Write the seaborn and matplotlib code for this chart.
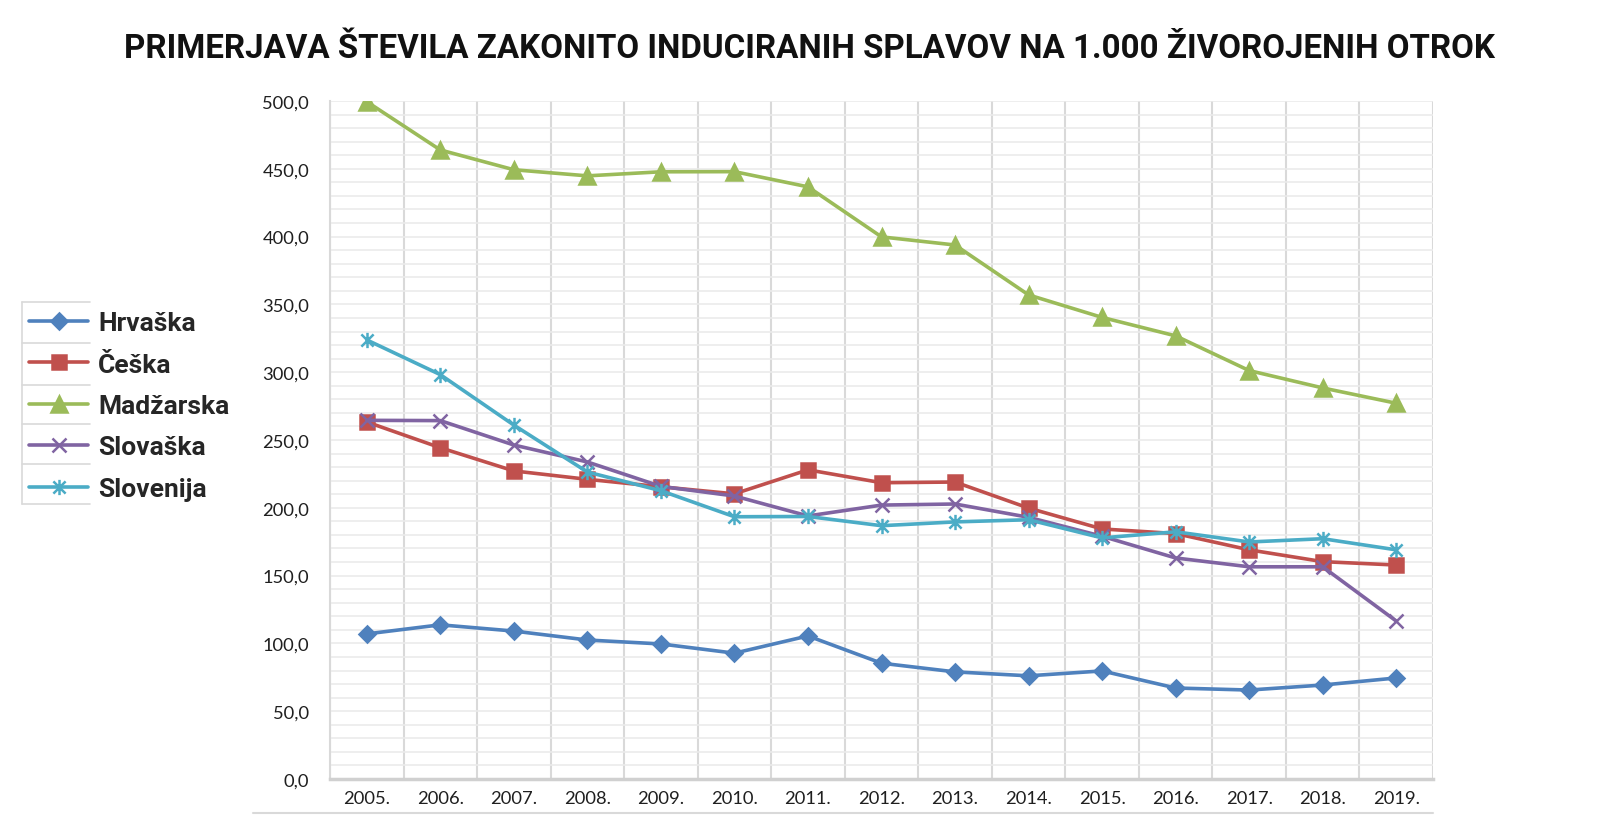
import numpy as np
import pandas as pd
import seaborn as sns
import matplotlib.pyplot as plt
from matplotlib.path import Path
from matplotlib.lines import Line2D
from matplotlib.ticker import MultipleLocator, FixedLocator, FuncFormatter

years = [2005, 2006, 2007, 2008, 2009, 2010, 2011, 2012, 2013, 2014, 2015, 2016, 2017, 2018, 2019]
year_labels = [f"{y}." for y in years]

hrvaska = [107.0, 113.7, 109.1, 102.5, 99.6, 92.8, 105.5, 85.4, 79.0, 76.1, 79.7, 67.1, 65.6, 69.3, 74.5]
ceska = [263.3, 244.3, 227.2, 221.0, 215.5, 210.3, 228.0, 218.5, 219.0, 199.8, 184.4, 181.0, 169.0, 160.3, 157.8]
madzarska = [499.5, 463.9, 449.3, 444.8, 447.8, 447.9, 436.7, 399.8, 393.8, 357.0, 340.4, 326.8, 301.2, 288.4, 277.1]
slovaska = [264.5, 264.3, 246.3, 233.8, 215.8, 208.7, 194.0, 202.0, 202.8, 193.0, 179.0, 163.0, 156.5, 156.5, 116.5]
slovenija = [323.8, 298.2, 261.0, 226.4, 212.6, 193.4, 193.6, 186.8, 189.6, 191.2, 177.8, 182.3, 174.8, 177.2, 169.0]

names = ["Hrvaška", "Češka", "Madžarska", "Slovaška", "Slovenija"]
series = [hrvaska, ceska, madzarska, slovaska, slovenija]
colors = ["#4F81BD", "#C0504D", "#9BBB59", "#8064A2", "#4BACC6"]

star = Path([(0, -1), (0, 1), (-0.8, -0.8), (0.8, 0.8), (-0.8, 0.8), (0.8, -0.8)],
            [Path.MOVETO, Path.LINETO, Path.MOVETO, Path.LINETO, Path.MOVETO, Path.LINETO])
markers = ["D", "s", "^", "x", star]
msizes = [8, 10.5, 11, 10, 11]

sns.set_theme(style="white")
plt.rcParams['font.family'] = ['Lato', 'DejaVu Sans']

fig = plt.figure(figsize=(16, 8.37), dpi=100)
ax = fig.add_axes([330 / 1600, 1 - 780 / 837, 1103 / 1600, 678 / 837])

for name, vals, col, mk, ms in zip(names, series, colors, markers, msizes):
    df = pd.DataFrame({"year": years, "value": vals})
    sns.lineplot(data=df, x="year", y="value", ax=ax, color=col, linewidth=2.6,
                 marker=mk, markersize=ms, markeredgecolor=col, markerfacecolor=col,
                 markeredgewidth=1.8, label=name, legend=False)

ax.set_xlim(2004.5, 2019.5)
ax.set_ylim(0, 500)
ax.set_xlabel("")
ax.set_ylabel("")

ax.yaxis.set_major_locator(MultipleLocator(50))
ax.yaxis.set_minor_locator(MultipleLocator(10))
ax.yaxis.set_major_formatter(FuncFormatter(lambda v, p: f"{v:.1f}".replace(".", ",")))
ax.xaxis.set_major_locator(FixedLocator(years))
ax.set_xticklabels(year_labels)
ax.xaxis.set_minor_locator(FixedLocator(np.arange(2004.5, 2020, 1.0)))

ax.grid(which="both", axis="y", color="#EBEBEB", linewidth=1.2)
ax.grid(which="minor", axis="x", color="#D9D9D9", linewidth=1.5)
ax.set_axisbelow(True)

ax.tick_params(axis="x", which="major", length=0, pad=8, labelsize=13.2, labelcolor="#1f1f1f")
ax.tick_params(axis="x", which="minor", length=24.5, width=1.5, color="#D9D9D9", direction="out")
ax.tick_params(axis="y", which="both", length=0, pad=15, labelsize=13.2, labelcolor="#1f1f1f")

for s in ["top", "right"]:
    ax.spines[s].set_visible(False)
ax.spines["left"].set_color("#D9D9D9")
ax.spines["left"].set_linewidth(1.5)
ax.spines["bottom"].set_color("#D0D0D0")
ax.spines["bottom"].set_linewidth(2.5)

# bottom border of the category cells
ax.add_line(Line2D([(253 - 330) / 1103, 1.0], [-34 / 678, -34 / 678], transform=ax.transAxes,
                   color="#D9D9D9", linewidth=1.5, clip_on=False))

fig.suptitle("PRIMERJAVA ŠTEVILA ZAKONITO INDUCIRANIH SPLAVOV NA 1.000 ŽIVOROJENIH OTROK",
             x=0.506, y=0.941, va="center", fontsize=23.9, fontweight="bold",
             family=["Roboto", "DejaVu Sans"], color="#111111")

handles, labels = ax.get_legend_handles_labels()
fig.legend(handles, labels, loc="center left", bbox_to_anchor=(29 / 1600, 1 - 407 / 837),
           frameon=False, borderpad=0, borderaxespad=0, handlelength=2.25, handletextpad=0.37,
           labelspacing=0.66, prop={"family": ["Roboto", "DejaVu Sans"], "weight": "bold", "size": 19})

# table-like separators around the legend keys
for yy in [303, 344, 386, 425, 465, 505]:
    fig.add_artist(Line2D([22 / 1600, 90 / 1600], [1 - yy / 837, 1 - yy / 837], color="#D9D9D9", linewidth=1.2))
fig.add_artist(Line2D([22 / 1600, 22 / 1600], [1 - 303 / 837, 1 - 505 / 837], color="#D9D9D9", linewidth=1.2))

fig.savefig("out.png", dpi=100)
